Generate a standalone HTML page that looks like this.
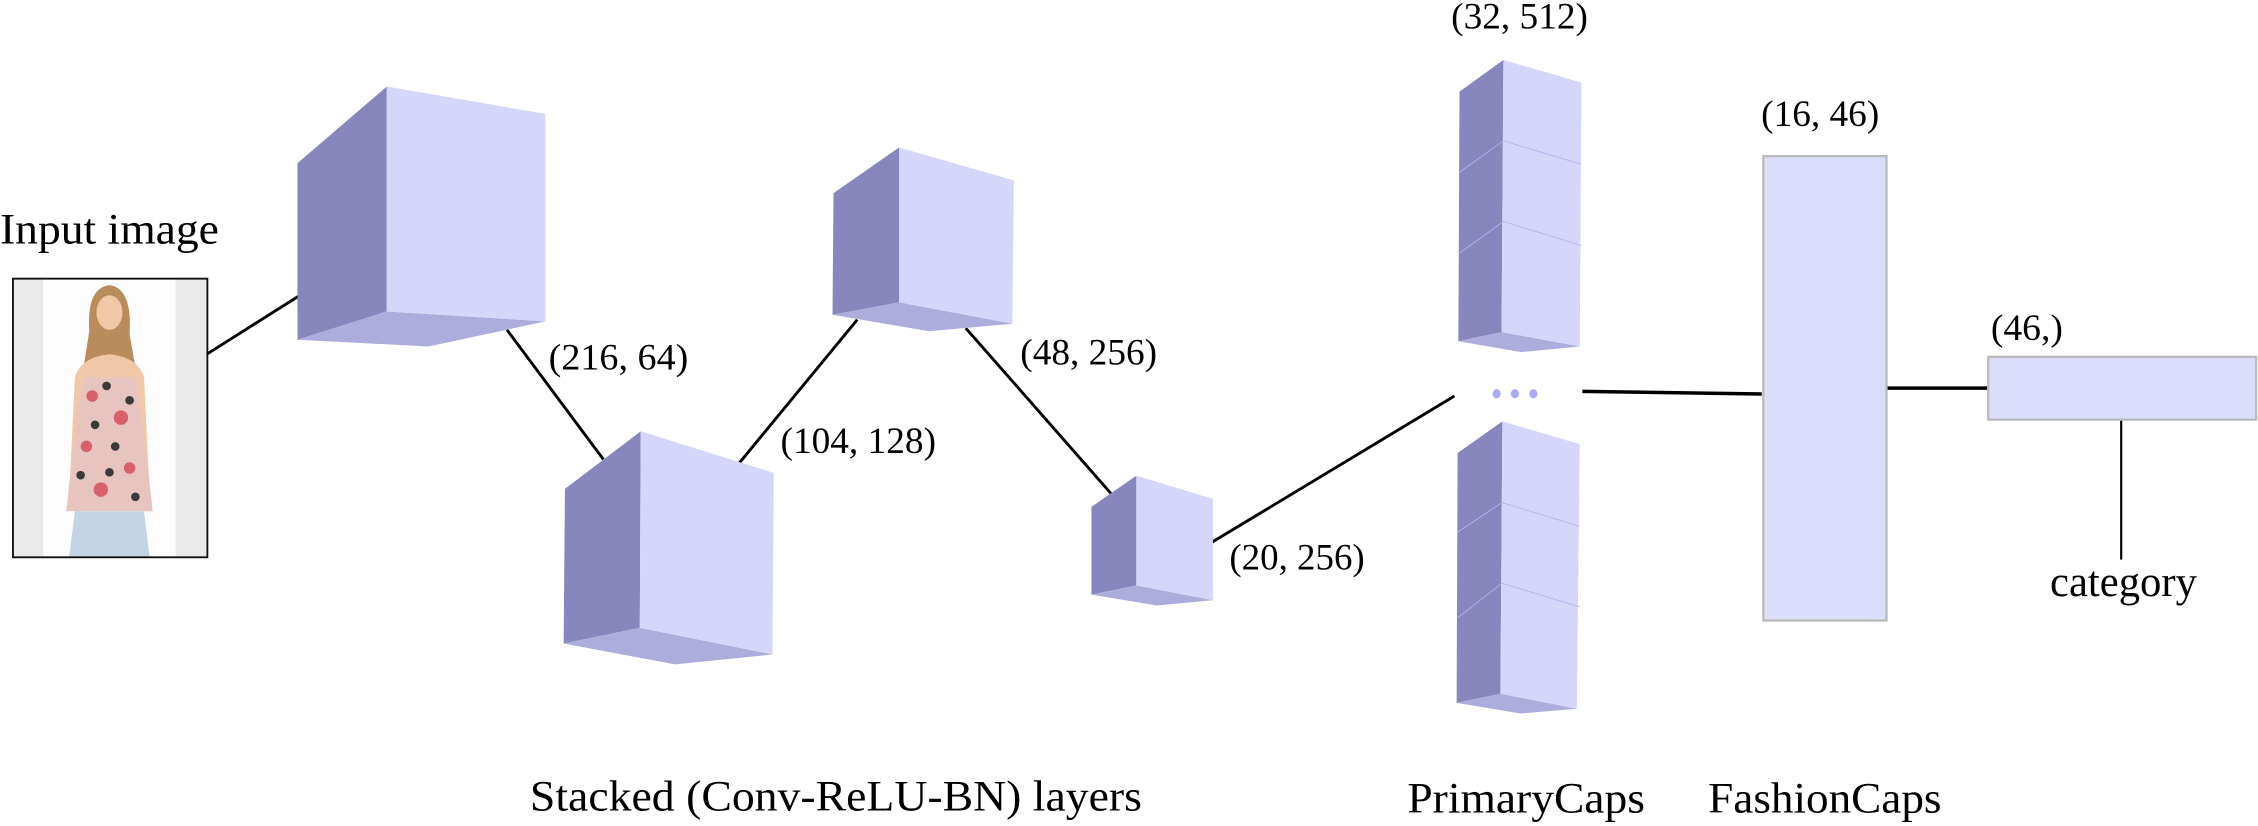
<!DOCTYPE html>
<html><head><meta charset="utf-8"><style>
html,body{margin:0;padding:0;background:#fff;overflow:hidden}
svg{display:block}
svg text{font-family:"Liberation Serif","Times New Roman",Times,serif !important;fill:#000}
</style></head><body>
<svg width="2258" height="826" viewBox="0 0 1568 573.6" preserveAspectRatio="none" xmlns="http://www.w3.org/2000/svg" font-family="Liberation Serif, Times New Roman, serif">
<rect width="1568" height="573.6" fill="#fff"/>

<g>
  <rect x="9" y="193.5" width="135" height="193.5" fill="#e9e9e9"/>
  <rect x="30" y="194" width="92" height="193" fill="#fdfdfd"/>
  <path d="M62,230 Q60,200 76,198 Q92,200 90,232 L94,255 L58,255 Z" fill="#b98c5c"/>
  <ellipse cx="76" cy="217" rx="9" ry="12" fill="#f0c8a8"/>
  <path d="M52,262 Q56,248 76,246 Q96,248 100,262 L104,345 L48,345 Z" fill="#f0c8a8"/>
  <path d="M58,262 L94,262 L100,300 L106,355 L46,355 L52,300 Z" fill="#e8c4c0"/>
  <g fill="#d8606a"><circle cx="64" cy="275" r="4"/><circle cx="84" cy="290" r="5"/><circle cx="60" cy="310" r="4"/><circle cx="90" cy="325" r="4"/><circle cx="70" cy="340" r="5"/></g>
  <g fill="#3a3a3a"><circle cx="74" cy="268" r="3"/><circle cx="90" cy="278" r="3"/><circle cx="66" cy="295" r="3"/><circle cx="80" cy="310" r="3"/><circle cx="56" cy="330" r="3"/><circle cx="94" cy="345" r="3"/><circle cx="76" cy="328" r="3"/></g>
  <path d="M52,355 L100,355 L104,387 L48,387 Z" fill="#c4d4e4"/>
  <rect x="9" y="193.5" width="135" height="193.5" fill="none" stroke="#111" stroke-width="1.3"/>
</g>
<text x="0" y="169" font-size="30" font-family="Liberation Serif, serif" textLength="152" lengthAdjust="spacingAndGlyphs">Input image</text>

<g stroke="#000" stroke-width="2" fill="none">
  <line x1="144" y1="245.7" x2="207" y2="205.9"/>
  <line x1="352" y1="229" x2="419" y2="319"/>
  <line x1="513.4" y1="321.5" x2="595.3" y2="222"/>
  <line x1="670.6" y1="227.8" x2="771.6" y2="342.8"/>
  <line x1="841.7" y1="376.5" x2="1010" y2="275"/>
  <line x1="1098.8" y1="271.8" x2="1223.4" y2="273.6" stroke-width="2.4"/>
  <line x1="1310" y1="269.5" x2="1380" y2="269.5" stroke-width="2.4"/>
  <line x1="1473" y1="292" x2="1473" y2="388.6" stroke-width="1.5"/>
</g>

<g>
  <polygon points="206.6,113.3 268.6,60.1 268.6,216.3 206.6,235.9" fill="#8787bd"/>
  <polygon points="268.6,60.1 378.7,79.1 378.7,223.2 268.6,216.3" fill="#d6d6fb"/>
  <polygon points="206.6,235.9 297.6,240.6 378.7,223.2 268.6,216.3" fill="#adaddd"/>
</g>
<g>
  <polygon points="392.3,339.5 444.9,299.5 444.3,436 391.4,446.9" fill="#8787bd"/>
  <polygon points="444.9,299.5 537.3,328.4 536.4,454.5 444.3,436" fill="#d6d6fb"/>
  <polygon points="391.4,446.9 468.8,461.4 536.4,454.5 444.3,436" fill="#adaddd"/>
</g>
<g>
  <polygon points="578.8,134.1 624.3,102.4 624.3,210 578.1,218.6" fill="#8787bd"/>
  <polygon points="624.3,102.4 704,125.3 703,224.8 624.3,210" fill="#d6d6fb"/>
  <polygon points="578.1,218.6 645,230 703,224.8 624.3,210" fill="#adaddd"/>
</g>
<g>
  <polygon points="757.9,352 789.1,330.3 789.1,406.6 757.9,412.9" fill="#8787bd"/>
  <polygon points="789.1,330.3 842.3,346.5 842.3,416.8 789.1,406.6" fill="#d6d6fb"/>
  <polygon points="757.9,412.9 803.5,420.5 842.3,416.8 789.1,406.6" fill="#adaddd"/>
</g>

<g>
  <polygon points="1013.5,63.6 1044,41.6 1042.7,230.6 1012.7,237" fill="#8787bd"/>
  <polygon points="1044,41.6 1098.2,57.4 1097,240.6 1042.7,230.6" fill="#d6d6fb"/>
  <polygon points="1012.7,237 1056.5,244.5 1097,240.6 1042.7,230.6" fill="#adaddd"/>
  <g stroke="#b4b4ee" stroke-width="0.6" fill="none">
    <polyline points="1013.5,119.6 1044,97.8 1098,114"/>
    <polyline points="1013.5,175.8 1044,153.8 1098,170.5"/>
  </g>
</g>
<g fill="#aaaaf4">
  <ellipse cx="1039.3" cy="273.4" rx="2.8" ry="3.2"/>
  <ellipse cx="1052" cy="273.4" rx="2.8" ry="3.2"/>
  <ellipse cx="1064.8" cy="273.4" rx="2.8" ry="3.2"/>
</g>
<g>
  <polygon points="1012.2,314.6 1043.3,292.6 1041.9,481.8 1011.5,488.1" fill="#8787bd"/>
  <polygon points="1043.3,292.6 1097,308.4 1095,492.2 1041.9,481.8" fill="#d6d6fb"/>
  <polygon points="1011.5,488.1 1055.9,495.5 1095,492.2 1041.9,481.8" fill="#adaddd"/>
  <g stroke="#b4b4ee" stroke-width="0.6" fill="none">
    <polyline points="1012,369.7 1043,349 1097,365.5"/>
    <polyline points="1012,429.1 1043,405 1097,421.5"/>
  </g>
</g>

<rect x="1224.5" y="108.4" width="85.5" height="322.5" fill="#dcdcfb" stroke="#bbbbbb" stroke-width="1.6"/>
<rect x="1380.7" y="247.8" width="186" height="43.6" fill="#dcdcfb" stroke="#bbbbbb" stroke-width="1.6"/>

<g font-size="26" font-family="Liberation Serif, serif">
  <text x="381" y="256.7" textLength="97" lengthAdjust="spacingAndGlyphs">(216, 64)</text>
  <text x="542" y="314.5" textLength="108" lengthAdjust="spacingAndGlyphs">(104, 128)</text>
  <text x="708.5" y="253" textLength="95" lengthAdjust="spacingAndGlyphs">(48, 256)</text>
  <text x="853.7" y="395.5" textLength="94" lengthAdjust="spacingAndGlyphs">(20, 256)</text>
  <text x="1007.7" y="19.7" textLength="95" lengthAdjust="spacingAndGlyphs">(32, 512)</text>
  <text x="1223" y="87.4" textLength="82" lengthAdjust="spacingAndGlyphs">(16, 46)</text>
  <text x="1382.5" y="236" textLength="50" lengthAdjust="spacingAndGlyphs">(46,)</text>
</g>

<g font-family="Liberation Serif, serif" font-size="30">
<text x="1423.6" y="414" textLength="102" lengthAdjust="spacingAndGlyphs">category</text>
<text x="368" y="563" textLength="425" lengthAdjust="spacingAndGlyphs">Stacked (Conv-ReLU-BN) layers</text>
<text x="977.3" y="564.4" textLength="165" lengthAdjust="spacingAndGlyphs">PrimaryCaps</text>
<text x="1186.2" y="564.4" textLength="162" lengthAdjust="spacingAndGlyphs">FashionCaps</text>
</g>
</svg>
</body></html>
